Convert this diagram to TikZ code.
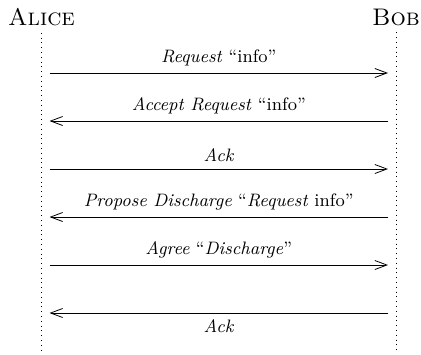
\documentclass[tikz,border=0pt]{standalone}
\usetikzlibrary{arrows.meta}
\begin{document}
\begin{tikzpicture}[
                x=1pt, y=1pt,
                >={Straight Barb[length=6pt,width=4.5pt]},
                actor/.style={font=\large\scshape, anchor=center},
                life/.style={dotted},
                msg/.style={->, shorten <=4pt, shorten >=4pt},
                lbl/.style={font=\small}
            ]
            \useasboundingbox (0,0) rectangle (210.5,-177);

            % 参与者
            \node[actor] (alice) at (20.75,-8.5) {Alice};
            \node[actor] (bob) at (198,-8.5) {Bob};

            % 生命线
            \coordinate (aliceEnd) at (20.75,-177);
            \coordinate (bobEnd) at (198,-177);
            \draw[life] (alice.south) -- (aliceEnd);
            \draw[life] (bob.south) -- (bobEnd);

            % 消息的端点
            \coordinate (a1) at (20.75,-36.5);   \coordinate (b1) at (198,-36.5);
            \coordinate (a2) at (20.75,-60.5);   \coordinate (b2) at (198,-60.5);
            \coordinate (a3) at (20.75,-84.5);   \coordinate (b3) at (198,-84.5);
            \coordinate (a4) at (20.75,-108.5);  \coordinate (b4) at (198,-108.5);
            \coordinate (a5) at (20.75,-132.5);  \coordinate (b5) at (198,-132.5);
            \coordinate (a6) at (20.75,-156.5);  \coordinate (b6) at (198,-156.5);

            % 消息
            \draw[msg] (a1) -- node[above, lbl] {\textit{Request} ``info''} (b1);
            \draw[msg] (b2) -- node[above, lbl] {\textit{Accept Request} ``info''} (a2);
            \draw[msg] (a3) -- node[above, lbl] {\textit{Ack}} (b3);
            \draw[msg] (b4) -- node[above, lbl] {\textit{Propose Discharge} ``\textit{Request} info''} (a4);
            \draw[msg] (a5) -- node[above, lbl] {\textit{Agree} ``\textit{Discharge}''} (b5);
            \draw[msg] (b6) -- node[below, lbl] {\textit{Ack}} (a6);
        \end{tikzpicture}
\end{document}
